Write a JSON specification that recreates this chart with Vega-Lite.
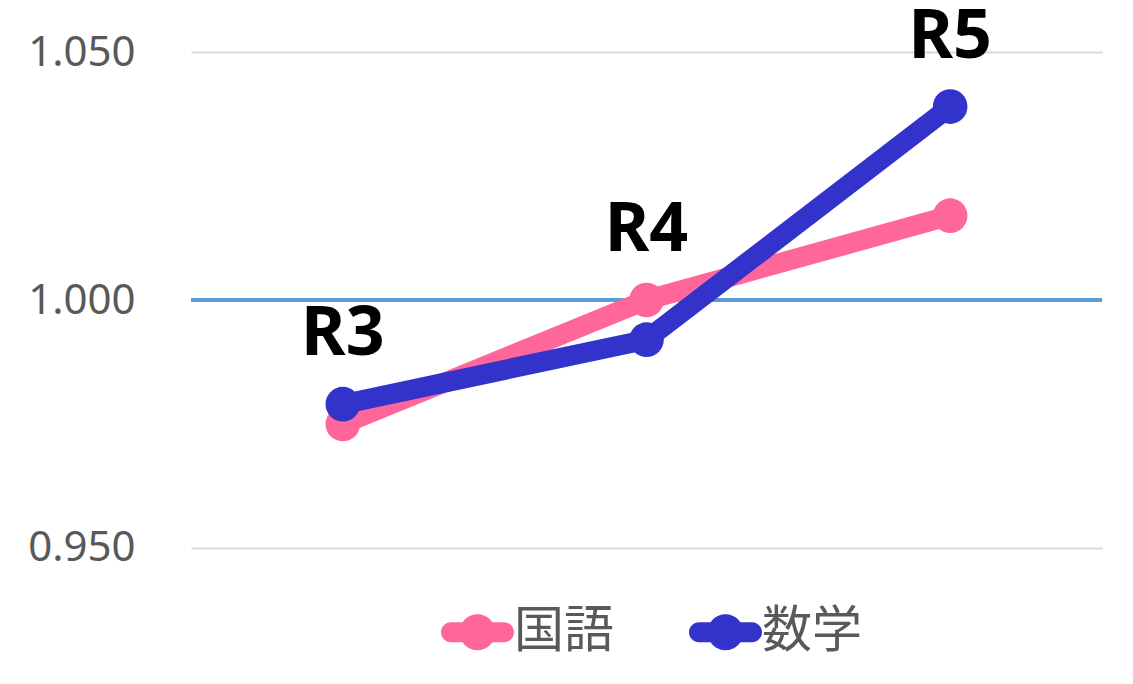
{
  "$schema": "https://vega.github.io/schema/vega-lite/v6.json",
  "autosize": {"type": "none"},
  "padding": {"left": 191, "top": 11, "right": 31, "bottom": 99},
  "width": 911,
  "height": 574,
  "background": "white",
  "config": {"view": {"stroke": null}},
  "data": {
    "values": [
      {"year": "R3", "subject": "国語", "value": 0.975},
      {"year": "R4", "subject": "国語", "value": 1.0},
      {"year": "R5", "subject": "国語", "value": 1.017},
      {"year": "R3", "subject": "数学", "value": 0.979},
      {"year": "R4", "subject": "数学", "value": 0.992},
      {"year": "R5", "subject": "数学", "value": 1.039}
    ]
  },
  "layer": [
    {
      "mark": {"type": "rule", "color": "#5B9BD5", "strokeWidth": 3},
      "encoding": {"y": {"datum": 1, "type": "quantitative"}}
    },
    {
      "mark": {"type": "line", "strokeWidth": 20, "strokeCap": "round", "strokeJoin": "round"},
      "encoding": {
        "x": {"field": "year", "type": "ordinal", "scale": {"type": "point", "padding": 0.5}, "axis": null},
        "y": {"field": "value", "type": "quantitative"},
        "color": {"field": "subject", "type": "nominal"}
      }
    },
    {
      "mark": {"type": "point", "filled": true, "size": 1200, "opacity": 1, "shape": "circle"},
      "encoding": {
        "x": {"field": "year", "type": "ordinal"},
        "y": {"field": "value", "type": "quantitative"},
        "color": {"field": "subject", "type": "nominal"}
      }
    },
    {
      "transform": [{"aggregate": [{"op": "max", "field": "value", "as": "top"}], "groupby": ["year"]}],
      "mark": {"type": "text", "font": "Noto Sans", "fontSize": 68, "fontWeight": "bold", "color": "#000000", "baseline": "middle", "align": "center", "dy": -69},
      "encoding": {
        "x": {"field": "year", "type": "ordinal"},
        "y": {"field": "top", "type": "quantitative"},
        "text": {"field": "year"}
      }
    }
  ],
  "encoding": {
    "y": {
      "type": "quantitative",
      "scale": {"domain": [0.94254, 1.05827], "nice": false, "zero": false},
      "axis": {
        "title": null,
        "values": [0.95, 1.0, 1.05],
        "format": ".3f",
        "grid": true,
        "domain": false,
        "ticks": false,
        "tickSize": 0,
        "labelPadding": 56,
        "labelFont": "Noto Sans",
        "labelFontSize": 42,
        "labelColor": "#595959",
        "gridColor": "#D9D9D9",
        "gridWidth": 2,
        "gridOpacity": 1
      }
    },
    "color": {
      "type": "nominal",
      "scale": {"domain": ["国語", "数学"], "range": ["#FF6699", "#3333CC"]},
      "legend": {
        "title": null,
        "orient": "none",
        "direction": "horizontal",
        "legendX": 250,
        "legendY": 584.5,
        "padding": 0,
        "symbolType": "M-0.726,-0.274L0.726,-0.274A0.274,0.274,0,0,1,0.726,0.274L-0.726,0.274A0.274,0.274,0,0,1,-0.726,-0.274Z M-0.493,0A0.493,0.493,0,0,1,0.493,0A0.493,0.493,0,0,1,-0.493,0Z",
        "symbolSize": 5329,
        "symbolStrokeWidth": 0,
        "labelOffset": 0,
        "columnPadding": 75,
        "labelFont": "Noto Sans CJK JP",
        "labelFontSize": 50,
        "labelColor": "#595959",
        "labelLimit": 400,
        "encode": {
          "symbols": {"update": {"fill": {"scale": "color", "field": "value"}, "stroke": {"value": "transparent"}, "opacity": {"value": 1}}}
        }
      }
    }
  }
}
